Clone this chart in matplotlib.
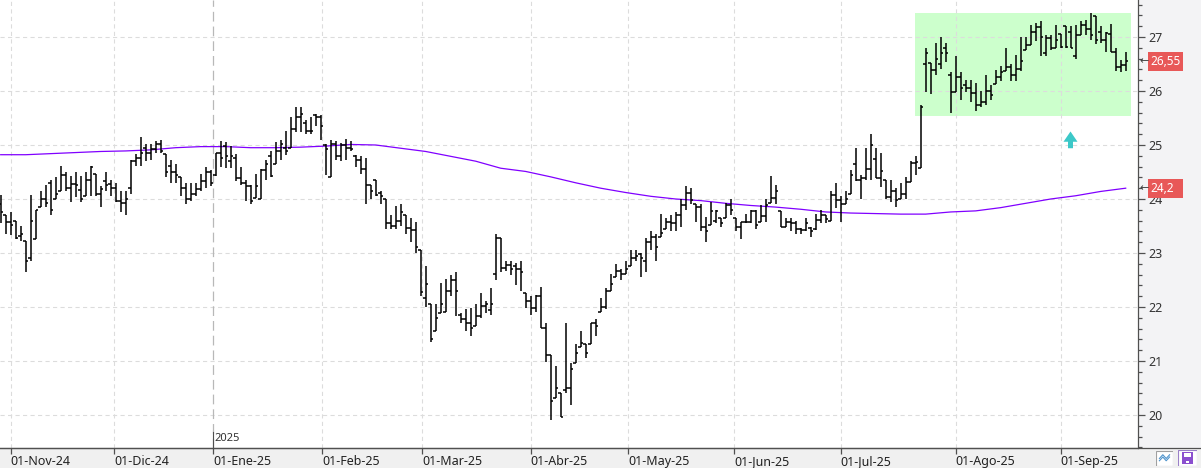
import numpy as np
import pandas as pd
import matplotlib
matplotlib.use("Agg")
import matplotlib.pyplot as plt
import matplotlib.transforms as mtransforms
from matplotlib.collections import LineCollection
from matplotlib.patches import Rectangle, Polygon
from matplotlib.ticker import MultipleLocator, FormatStrFormatter

plt.rcParams["font.family"] = ["Noto Sans", "DejaVu Sans"]
plt.rcParams["lines.scale_dashes"] = False

# daily OHLC, 30-Oct-24 .. 18-Sep-25
opens = [
    23.90, 23.70, 23.57, 23.59, 23.31, 23.22, 22.90, 23.26, 23.85, 24.00,
    24.30, 24.00, 24.15, 24.44, 24.21, 24.28, 24.16, 24.05, 24.35, 24.46,
    24.10, 24.34, 24.28, 24.20, 23.96, 23.92, 24.21, 24.70, 24.75, 24.95,
    24.86, 24.92, 25.01, 24.83, 24.62, 24.50, 24.41, 24.21, 24.00, 24.10,
    24.18, 24.34, 24.50, 24.45, 24.86, 24.98, 24.70, 24.76, 24.39, 24.30,
    24.24, 24.01, 24.00, 24.54, 24.80, 24.64, 24.88,
    24.95, 24.95, 25.30, 25.51, 25.40, 25.26, 25.56, 25.52, 25.00, 24.41,
    25.01, 24.80, 25.00, 24.95, 24.80, 24.73, 24.55, 24.26, 24.36, 24.12,
    24.00, 23.56, 23.50, 23.59, 23.71, 23.47, 23.42, 23.06, 22.16, 22.05,
    21.55, 21.89, 21.91, 22.29, 22.50, 21.85, 21.78, 21.70, 21.64, 21.83,
    22.01, 21.95, 22.61, 23.27, 22.72, 22.77, 22.76, 22.71, 22.26, 22.12,
    21.98, 22.20, 21.61, 21.12, 20.31, 20.41, 20.47, 20.50,
    20.97, 21.26, 21.31, 21.31, 21.71, 21.91, 22.00, 22.30, 22.55, 22.66,
    22.61, 22.75, 22.91, 22.98, 22.86, 23.20, 23.29, 23.30, 23.45, 23.57,
    23.55, 23.71, 23.89, 24.11, 23.90, 23.86, 23.49, 23.51, 23.60, 23.65,
    23.65, 23.89, 23.65, 23.49, 23.57, 23.58, 23.77, 23.58, 23.68, 23.92,
    24.02, 23.77, 23.49, 23.58, 23.55, 23.45, 23.43, 23.47, 23.45, 23.62,
    23.71, 23.60, 24.08, 23.98, 23.90, 24.09, 24.64,
    24.36, 24.38, 24.56, 24.74, 24.38, 24.35, 24.04, 24.14, 24.00, 24.09,
    24.31, 24.66, 24.58, 26.50, 26.52, 26.39, 26.50, 26.80, 26.30, 25.99,
    26.25, 26.12, 26.05, 25.96, 25.74, 25.80, 26.00, 26.13, 26.25, 26.37,
    26.44, 26.30, 26.40, 26.76, 26.86, 27.10, 27.18, 26.70, 26.99, 26.80,
    27.05, 27.20, 27.10, 26.65, 27.04, 27.22, 27.14, 27.38, 27.10, 26.95,
    27.05, 26.73, 26.44, 26.49,
]
highs = [
    24.08, 23.71, 23.76, 23.60, 23.50, 23.22, 24.07, 23.79, 24.15, 24.26,
    24.36, 24.41, 24.61, 24.50, 24.42, 24.50, 24.42, 24.50, 24.61, 24.46,
    24.24, 24.50, 24.36, 24.30, 24.15, 24.15, 24.72, 24.83, 25.15, 25.02,
    25.01, 25.07, 25.10, 24.83, 24.72, 24.64, 24.41, 24.30, 24.30, 24.30,
    24.46, 24.59, 24.53, 24.86, 25.07, 25.06, 24.98, 24.83, 24.59, 24.36,
    24.26, 24.46, 24.56, 24.72, 24.89, 25.06, 25.10,
    25.26, 25.51, 25.71, 25.71, 25.46, 25.51, 25.57, 25.56, 25.01, 25.09,
    25.07, 25.04, 25.11, 25.07, 24.81, 24.80, 24.75, 24.26, 24.36, 24.15,
    24.00, 23.70, 23.87, 23.91, 23.71, 23.65, 23.57, 23.06, 22.76, 22.06,
    22.06, 22.45, 22.51, 22.60, 22.65, 21.89, 21.96, 21.98, 22.06, 22.26,
    22.11, 22.35, 23.36, 23.27, 22.86, 22.86, 22.82, 22.86, 22.26, 22.20,
    22.23, 22.37, 21.70, 21.12, 20.90, 20.41, 21.70, 20.97,
    21.31, 21.55, 21.31, 21.71, 21.77, 22.16, 22.35, 22.61, 22.80, 22.71,
    22.86, 23.06, 23.06, 23.00, 23.28, 23.40, 23.35, 23.72, 23.65, 23.71,
    23.76, 24.00, 24.24, 24.21, 23.90, 23.90, 23.66, 23.94, 23.80, 23.65,
    23.92, 24.00, 23.65, 23.58, 23.72, 23.80, 23.80, 23.89, 24.00, 24.42,
    24.25, 23.77, 23.65, 23.65, 23.60, 23.47, 23.65, 23.49, 23.72, 23.80,
    23.71, 24.15, 24.29, 24.06, 24.15, 24.54, 24.94,
    24.45, 24.94, 25.20, 24.94, 24.85, 24.35, 24.35, 24.20, 24.29, 24.40,
    24.70, 24.79, 25.74, 26.80, 26.52, 26.89, 27.00, 26.89, 26.36, 26.64,
    26.36, 26.20, 26.20, 26.15, 26.00, 26.30, 26.12, 26.39, 26.46, 26.80,
    26.50, 26.66, 27.00, 27.00, 27.22, 27.26, 27.30, 27.04, 27.04, 27.22,
    27.06, 27.20, 27.20, 27.22, 27.30, 27.32, 27.45, 27.38, 27.20, 27.09,
    27.24, 26.80, 26.58, 26.73,
]
lows = [
    23.56, 23.35, 23.34, 23.26, 23.22, 22.65, 22.85, 23.26, 23.85, 23.85,
    23.70, 24.00, 24.15, 24.15, 23.94, 24.03, 23.94, 24.05, 24.05, 24.05,
    23.85, 24.15, 24.05, 23.94, 23.76, 23.70, 24.10, 24.61, 24.61, 24.70,
    24.73, 24.86, 24.86, 24.41, 24.30, 24.30, 24.05, 23.91, 23.96, 24.05,
    24.15, 24.21, 24.24, 24.42, 24.59, 24.58, 24.57, 24.34, 24.26, 23.96,
    23.91, 24.01, 24.00, 24.36, 24.41, 24.64, 24.73,
    24.82, 24.95, 25.24, 25.24, 25.21, 25.21, 25.35, 25.09, 24.44, 24.41,
    24.73, 24.70, 24.73, 24.89, 24.59, 24.46, 23.91, 24.00, 24.05, 23.91,
    23.45, 23.45, 23.45, 23.50, 23.36, 23.20, 23.00, 22.20, 22.00, 21.35,
    21.55, 21.89, 21.91, 22.20, 21.83, 21.70, 21.55, 21.46, 21.64, 21.80,
    21.89, 21.85, 22.50, 22.65, 22.67, 22.60, 22.40, 22.29, 21.99, 21.86,
    21.91, 21.61, 20.99, 19.91, 20.31, 19.97, 20.41, 20.19,
    20.97, 21.26, 21.06, 21.31, 21.46, 21.91, 21.97, 22.29, 22.55, 22.50,
    22.61, 22.75, 22.85, 22.56, 22.65, 23.06, 22.85, 23.29, 23.45, 23.40,
    23.40, 23.49, 23.80, 23.90, 23.58, 23.40, 23.20, 23.51, 23.55, 23.49,
    23.65, 23.71, 23.40, 23.25, 23.55, 23.55, 23.45, 23.58, 23.58, 23.92,
    23.90, 23.49, 23.49, 23.40, 23.35, 23.35, 23.40, 23.29, 23.43, 23.55,
    23.55, 23.60, 23.84, 23.58, 23.90, 24.09, 24.34,
    24.00, 24.35, 24.35, 24.38, 24.23, 24.00, 23.95, 23.86, 24.00, 24.00,
    24.31, 24.45, 24.58, 25.99, 25.94, 26.29, 26.40, 26.54, 25.59, 25.99,
    25.84, 25.99, 25.79, 25.63, 25.71, 25.74, 25.84, 26.13, 26.19, 26.37,
    26.19, 26.19, 26.37, 26.76, 26.86, 26.92, 26.64, 26.64, 26.75, 26.80,
    26.80, 26.80, 26.80, 26.60, 27.04, 27.04, 26.95, 26.87, 26.89, 26.73,
    26.73, 26.37, 26.36, 26.37,
]
closes = [
    23.76, 23.57, 23.51, 23.27, 23.36, 22.86, 23.60, 23.79, 24.00, 23.93,
    23.80, 24.10, 24.44, 24.21, 24.28, 24.26, 24.00, 24.35, 24.59, 24.10,
    24.18, 24.26, 24.20, 23.96, 23.92, 24.00, 24.70, 24.75, 24.86, 24.86,
    24.92, 25.01, 24.88, 24.50, 24.50, 24.44, 24.21, 24.00, 24.10, 24.18,
    24.34, 24.50, 24.30, 24.86, 24.76, 24.80, 24.80, 24.39, 24.30, 24.24,
    23.96, 24.24, 24.54, 24.65, 24.42, 24.88, 25.01,
    24.88, 25.30, 25.51, 25.57, 25.26, 25.25, 25.52, 25.36, 24.92, 25.01,
    24.80, 25.00, 24.95, 24.92, 24.73, 24.55, 24.26, 24.15, 24.08, 24.05,
    23.56, 23.50, 23.59, 23.76, 23.47, 23.42, 23.11, 22.27, 22.42, 21.40,
    21.80, 22.06, 22.29, 22.50, 22.29, 21.78, 21.70, 21.62, 21.83, 22.01,
    22.06, 22.06, 23.27, 22.72, 22.77, 22.71, 22.71, 22.65, 22.12, 21.98,
    22.20, 21.61, 21.12, 20.26, 20.50, 19.97, 20.50, 20.86,
    21.15, 21.34, 21.15, 21.71, 21.65, 22.00, 22.30, 22.42, 22.66, 22.61,
    22.71, 22.91, 22.94, 22.91, 23.20, 23.29, 23.12, 23.37, 23.57, 23.55,
    23.71, 23.89, 24.11, 23.98, 23.86, 23.49, 23.40, 23.77, 23.77, 23.55,
    23.89, 23.80, 23.49, 23.57, 23.58, 23.77, 23.52, 23.68, 23.89, 24.02,
    24.15, 23.49, 23.58, 23.55, 23.45, 23.43, 23.55, 23.40, 23.62, 23.71,
    23.63, 24.08, 23.98, 23.90, 24.00, 24.45, 24.36,
    24.38, 24.56, 25.00, 24.38, 24.51, 24.04, 24.14, 23.98, 24.09, 24.31,
    24.66, 24.69, 25.71, 26.70, 26.39, 26.60, 26.70, 26.70, 25.99, 26.25,
    26.05, 26.05, 25.96, 25.74, 25.80, 26.00, 25.93, 26.25, 26.36, 26.44,
    26.30, 26.40, 26.55, 26.86, 27.10, 27.18, 27.00, 26.99, 26.80, 26.95,
    26.82, 26.82, 26.80, 27.04, 27.22, 27.14, 27.04, 26.95, 26.95, 27.07,
    26.73, 26.44, 26.49, 26.55,
]
# moving average, read every 5th session
ma_vals = [
    24.82, 24.82, 24.84, 24.86, 24.88, 24.89, 24.91, 24.95, 24.97, 24.97, 24.95, 24.95,
    24.96, 24.98, 25.01, 25.00, 24.94, 24.88, 24.79, 24.70, 24.57, 24.51, 24.41, 24.30,
    24.20, 24.12, 24.05, 24.00, 23.97, 23.92, 23.88, 23.85, 23.81, 23.76, 23.74,
    23.73, 23.72, 23.72, 23.76, 23.78, 23.84, 23.92, 24.00, 24.06, 24.14, 24.20,
]
holidays = ["2024-12-25", "2024-12-26", "2025-01-01", "2025-04-18", "2025-04-21", "2025-05-01"]
dates = pd.bdate_range("2024-10-30", "2025-09-18", freq="C", holidays=holidays)
month_names = ["Ene", "Feb", "Mar", "Abr", "May", "Jun", "Jul", "Ago", "Sep", "Oct", "Nov", "Dic"]
month_starts = pd.date_range("2024-11-01", "2025-09-01", freq="MS")

# green zone and signal arrow
zone_x0, zone_x1 = 182.86, 226.06
zone_lo, zone_hi = 25.54, 27.45
arrow_x, arrow_y = 213.96, 25.06

W, H = 1201, 468
fig = plt.figure(figsize=(W / 100, H / 100), dpi=100)
fig.patch.set_facecolor("#F3F3F5")
fig.patches.append(Rectangle((0, 0), 1, 20 / H, transform=fig.transFigure,
                             facecolor="#F0F0F0", edgecolor="none", zorder=-5))
ax = fig.add_axes([0, 20 / H, 1138 / W, 448 / H])
ax.set_facecolor("white")

idx = np.arange(len(closes))
date_ns = dates.values.astype("int64")
month_pos = np.interp(month_starts.values.astype("int64"), date_ns, idx)
month_labels = [f"01-{month_names[d.month - 1]}-{d.strftime('%y')}" for d in month_starts]
year_pos = month_pos[list(month_starts.month).index(1)]

# grid
for v in range(20, 28):
    ax.axhline(v, color="#DCDCDC", lw=0.8, ls=(0, (3, 2.4)), zorder=1)
for p in month_pos:
    if p == year_pos:
        ax.axvline(p, color="#B8B8B8", lw=0.9, ls=(0, (7, 3.6)), zorder=1)
    else:
        ax.axvline(p, color="#DCDCDC", lw=0.8, ls=(0, (3, 2.4)), zorder=1)

ax.add_patch(Rectangle((zone_x0, zone_lo), zone_x1 - zone_x0, zone_hi - zone_lo,
                       facecolor="#CCFFCC", edgecolor="none", zorder=0.5))

ax.plot(idx[::5], ma_vals, color="#8000FF", lw=0.9, zorder=2)

ax.vlines(idx, lows, highs, color="black", lw=1.1, zorder=3)
tick_w = 0.45
open_segs = [[(i - tick_w, o), (i, o)] for i, o in zip(idx, opens)]
close_segs = [[(i, c), (i + tick_w, c)] for i, c in zip(idx, closes)]
ax.add_collection(LineCollection(open_segs + close_segs, colors="black", linewidths=1.1, zorder=3))

# signal arrow
ax.add_patch(Polygon([(arrow_x - 1.4, arrow_y), (arrow_x, arrow_y + 0.19), (arrow_x + 1.4, arrow_y),
                      (arrow_x + 0.5, arrow_y), (arrow_x + 0.5, arrow_y - 0.12),
                      (arrow_x - 0.5, arrow_y - 0.12), (arrow_x - 0.5, arrow_y)],
                     closed=True, facecolor="#3CC8C8", edgecolor="none", zorder=4))

ax.set_xlim(-0.14, 227.46)
ax.set_ylim(19.389, 27.685)

for s in ["left", "top"]:
    ax.spines[s].set_visible(False)
ax.spines["right"].set_color("#505050")
ax.spines["bottom"].set_color("#505050")
ax.spines["right"].set_linewidth(0.9)
ax.spines["bottom"].set_linewidth(0.9)

ax.yaxis.tick_right()
ax.yaxis.set_major_locator(MultipleLocator(1))
ax.yaxis.set_minor_locator(MultipleLocator(0.2))
ax.yaxis.set_major_formatter(FormatStrFormatter("%d"))
ax.tick_params(axis="y", which="major", length=5, width=0.9, color="#505050",
               labelsize=9, labelcolor="#333333", pad=2.5)
ax.tick_params(axis="y", which="minor", length=3, width=0.9, color="#505050")

ax.set_xticks(month_pos)
ax.set_xticklabels(month_labels, ha="left")
ax.tick_params(axis="x", length=4, width=0.9, color="#505050",
               labelsize=9, labelcolor="#222222", pad=1.0)

# year marker
ax.plot([year_pos, year_pos], [0, 0.036], transform=ax.get_xaxis_transform(),
        color="#505050", lw=0.8, zorder=4, clip_on=False)
ax.text(year_pos + 0.3, 0.022, "2025", transform=ax.get_xaxis_transform(),
        fontsize=8, color="#333333", ha="left", va="center")

# last value tags
trans = mtransforms.blended_transform_factory(ax.transAxes, ax.transData)
for val, txt in [(closes[-1], f"{closes[-1]:.2f}".replace(".", ",")),
                 (ma_vals[-1], f"{ma_vals[-1]:g}".replace(".", ","))]:
    ax.add_patch(Rectangle((1148 / 1138, val - 0.176), 35 / 1138, 0.352, transform=trans,
                           facecolor="#E85858", edgecolor="none", clip_on=False, zorder=6))
    ax.text(1150 / 1138, val, txt, transform=trans, color="white", fontsize=8.5,
            ha="left", va="center", zorder=7, clip_on=False)
    ax.text(1139.5 / 1138, val, "\u2190", transform=trans, color="#444444", fontsize=8,
            ha="left", va="center", zorder=7, clip_on=False, family="DejaVu Sans")

# bottom line across the full width
fig.add_artist(plt.Line2D([0, 1], [20 / H, 20 / H], transform=fig.transFigure,
                          color="#505050", lw=0.9))

# toolbar icons
ic1 = fig.add_axes([1156 / W, 2 / H, 17 / W, 15 / H])
ic1.set_xlim(0, 1); ic1.set_ylim(0, 1); ic1.axis("off")
ic1.add_patch(Rectangle((0, 0), 1, 1, facecolor="white", edgecolor="#A0A0A0", lw=0.8))
ic1.plot([0.2, 0.4, 0.6, 0.8], [0.35, 0.6, 0.35, 0.6], color="#4F94CD", lw=0.8)
ic1.plot([0.2, 0.4, 0.6, 0.8], [0.5, 0.75, 0.5, 0.75], color="#4F94CD", lw=0.8)
ic2 = fig.add_axes([1178 / W, 2 / H, 19 / W, 16 / H])
ic2.set_xlim(0, 1); ic2.set_ylim(0, 1); ic2.axis("off")
ic2.add_patch(Rectangle((0, 0), 1, 1, facecolor="white", edgecolor="#9A80C8", lw=0.8))
ic2.add_patch(Rectangle((0.2, 0.12), 0.6, 0.76, facecolor="#8B4FCF", edgecolor="none"))
ic2.add_patch(Rectangle((0.33, 0.55), 0.34, 0.28, facecolor="white", edgecolor="none"))
ic2.add_patch(Rectangle((0.42, 0.18), 0.16, 0.14, facecolor="white", edgecolor="none"))

fig.savefig("out.png", dpi=100, facecolor=fig.get_facecolor())
